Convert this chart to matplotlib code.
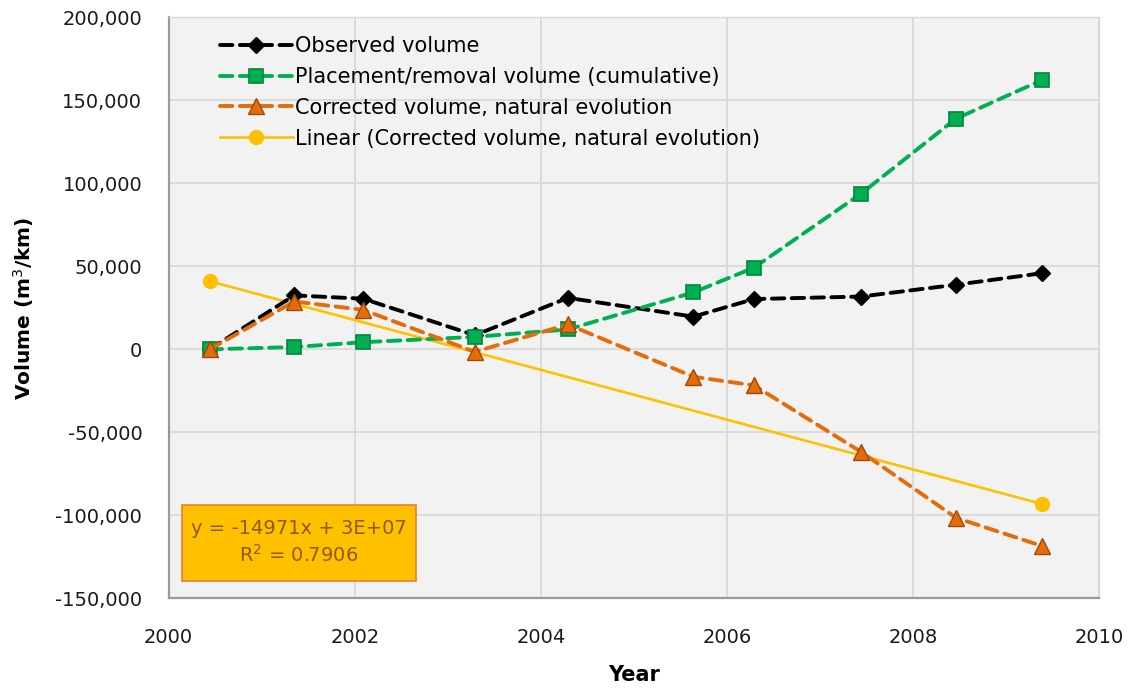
import numpy as np
import matplotlib
matplotlib.use("Agg")
import matplotlib.pyplot as plt
from matplotlib.ticker import FuncFormatter, MultipleLocator
from matplotlib.patches import Rectangle

# ---- data ----
years = [2000.44, 2001.35, 2002.09, 2003.29, 2004.29, 2005.64, 2006.29, 2007.44, 2008.46, 2009.39]
observed = [0, 32500, 30500, 8500, 31000, 19700, 30300, 31800, 38900, 45900]
placement = [0, 1400, 4300, 7500, 12000, 34300, 49200, 93700, 138900, 162300]
corrected = [0, 28800, 23800, -1500, 15000, -16500, -21700, -61700, -101400, -118500]

labels = ["Observed volume",
          "Placement/removal volume (cumulative)",
          "Corrected volume, natural evolution",
          "Linear (Corrected volume, natural evolution)"]
eq_text = "y = -14971x + 3E+07\nR$^2$ = 0.7906"

plt.rcParams['font.family'] = ['DejaVu Sans']
plt.rcParams['mathtext.fontset'] = 'dejavusans'

fig = plt.figure(figsize=(11.32, 6.91), dpi=100)
ax = fig.add_axes([0.149, 0.134, 0.822, 0.841])
ax.set_facecolor('#f2f2f2')

lw = 2.8
dash = (3.2, 1.9)
ax.plot(years, observed, color='black', lw=lw, dashes=dash, dash_capstyle='round',
        marker='D', ms=8, mfc='black', mec='black', label=labels[0], zorder=4)
ax.plot(years, placement, color='#00b050', lw=lw, dashes=dash, dash_capstyle='round',
        marker='s', ms=10, mfc='#00b050', mec='#00873c', mew=1.2, label=labels[1], zorder=5)
ax.plot(years, corrected, color='#e46c0a', lw=lw, dashes=dash, dash_capstyle='round',
        marker='^', ms=12, mfc='#e46c0a', mec='#a04a05', mew=1.0, label=labels[2], zorder=6)

# linear trendline of corrected volume
coef = np.polyfit(years, corrected, 1)
xt = np.array([years[0], years[-1]])
ax.plot(xt, np.polyval(coef, xt), color='#ffc000', lw=1.9, marker='o', ms=10,
        mfc='#ffc000', mec='#ffc000', label=labels[3], zorder=3)

ax.set_xlim(2000, 2010)
ax.set_ylim(-150000, 200000)
ax.xaxis.set_major_locator(MultipleLocator(2))
ax.yaxis.set_major_locator(MultipleLocator(50000))
ax.yaxis.set_major_formatter(FuncFormatter(lambda v, p: f"{int(v):,}"))
ax.grid(True, color='#d9d9d9', lw=1.3)
ax.set_axisbelow(True)
ax.tick_params(length=0, labelsize=14, colors='#1a1a1a')
ax.tick_params(axis='y', pad=19)
ax.tick_params(axis='x', pad=21)
for s in ['left', 'bottom']:
    ax.spines[s].set_color('#9a9a9a')
    ax.spines[s].set_linewidth(1.6)
for s in ['top', 'right']:
    ax.spines[s].set_color('#d9d9d9')
    ax.spines[s].set_linewidth(1.0)

ax.set_xlabel("Year", fontsize=15, fontweight='bold', labelpad=13)
ax.set_ylabel("Volume (m$^3$/km)", fontsize=14.5, fontweight='bold', labelpad=14)

leg = ax.legend(loc='upper left', bbox_to_anchor=(0.035, 1.0), frameon=False,
                fontsize=15, handlelength=3.5, handletextpad=0.12, labelspacing=0.52)

ax.add_patch(Rectangle((0.014, 0.0305), 0.252, 0.13, transform=ax.transAxes,
                       fc='#ffc000', ec='#ed7d31', lw=1.2, zorder=7))
ax.text(0.140, 0.096, eq_text, transform=ax.transAxes, ha='center', va='center',
        fontsize=14, color='#8f5a08', linespacing=1.35, zorder=8)

fig.savefig("out.png", dpi=100, facecolor='white')
